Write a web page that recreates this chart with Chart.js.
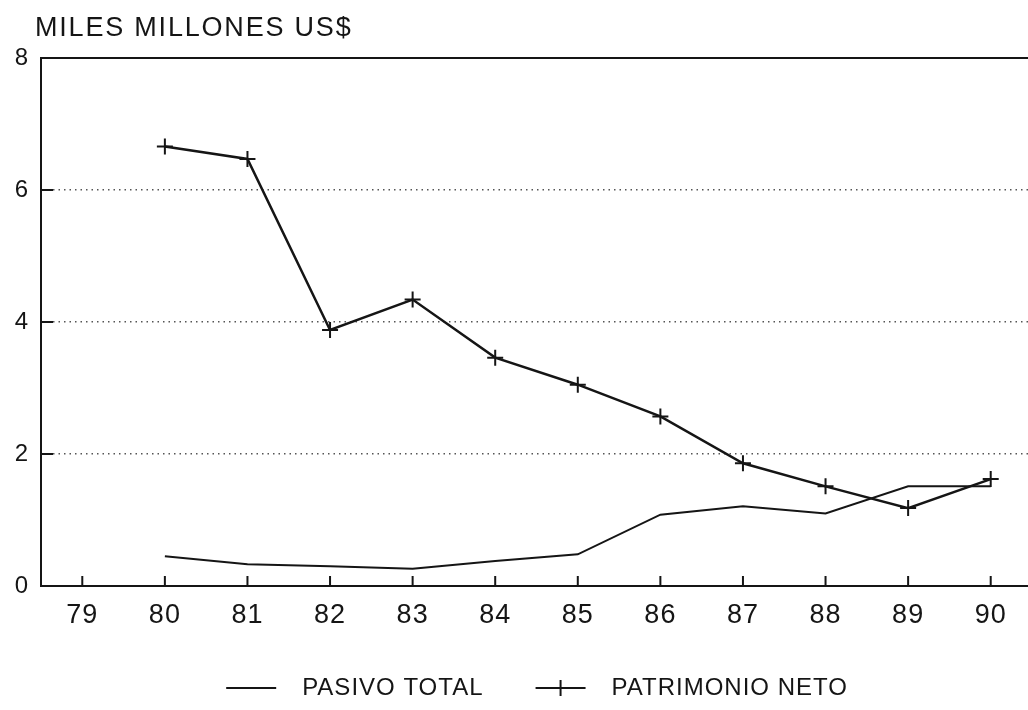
<!DOCTYPE html>
<html>
<head>
<meta charset="utf-8">
<script src="https://cdn.jsdelivr.net/npm/chart.js@4"></script>
<style>
  html, body { margin: 0; padding: 0; background: #fff; overflow: hidden; }
  #wrap { width: 1032px; height: 710px; position: relative; }
</style>
</head>
<body>
<div id="wrap"><canvas id="chart"></canvas></div>
<script>
// values, miles de millones US$
const years = ['79', '80', '81', '82', '83', '84', '85', '86', '87', '88', '89', '90'];
const pasivoTotal = [null, 0.45, 0.33, 0.30, 0.26, 0.38, 0.48, 1.08, 1.21, 1.10, 1.51, 1.51];
const patrimonioNeto = [null, 6.66, 6.47, 3.88, 4.34, 3.46, 3.05, 2.57, 1.86, 1.51, 1.18, 1.62];
const yTicks = [0, 2, 4, 6, 8];

const ink = '#151515';
const font = '"Liberation Sans", Arial, sans-serif';

// legend symbols: blank lead-in, a short line, and a cross for the second series
function legendIcon(withCross) {
  const c = document.createElement('canvas');
  c.width = 106; c.height = 24;
  const g = c.getContext('2d');
  g.strokeStyle = ink;
  g.lineWidth = 2;
  g.beginPath();
  g.moveTo(42, 12); g.lineTo(92, 12);
  if (withCross) { g.moveTo(67, 4); g.lineTo(67, 20); }
  g.stroke();
  return c;
}
const icons = [legendIcon(false), legendIcon(true)];

// frame top, inward ticks, title text
const framePlugin = {
  id: 'frame',
  beforeUpdate(chart) { chart.ctx.letterSpacing = '1px'; },
  beforeDraw(chart) { chart.ctx.letterSpacing = '1px'; },
  afterDraw(chart) {
    const { ctx, chartArea: a, scales: { x, y } } = chart;
    ctx.save();
    ctx.strokeStyle = ink;
    ctx.lineWidth = 2;
    ctx.beginPath();
    ctx.moveTo(a.left, a.top); ctx.lineTo(a.right, a.top);
    x.ticks.forEach((t, i) => {
      const px = x.getPixelForTick(i);
      ctx.moveTo(px, a.bottom); ctx.lineTo(px, a.bottom - 10);
    });
    y.ticks.forEach((t, i) => {
      if (t.value > 0 && t.value < 8) {
        const py = y.getPixelForTick(i);
        ctx.moveTo(a.left, py); ctx.lineTo(a.left + 12, py);
      }
    });
    ctx.stroke();
    ctx.fillStyle = ink;
    ctx.font = '27px ' + font;
    ctx.letterSpacing = '1.8px';
    ctx.textBaseline = 'middle';
    ctx.fillText('MILES MILLONES US$', 35, 29);
    ctx.restore();
  }
};

const data = {
  labels: years,
  datasets: [
    {
      label: 'PASIVO TOTAL',
      data: pasivoTotal,
      borderColor: ink,
      borderWidth: 2,
      pointRadius: 0,
      tension: 0
    },
    {
      label: 'PATRIMONIO NETO',
      data: patrimonioNeto,
      borderColor: ink,
      borderWidth: 2.5,
      pointStyle: 'cross',
      pointRadius: 8,
      pointBorderWidth: 2,
      pointBorderColor: ink,
      tension: 0
    }
  ]
};

const options = {
  responsive: true,
  maintainAspectRatio: false,
  animation: false,
  layout: { autoPadding: false, padding: { top: 58, right: 0, bottom: 0, left: 0 } },
  plugins: {
    tooltip: { enabled: false },
    legend: {
      position: 'bottom',
      labels: {
        usePointStyle: true,
        pointStyleWidth: 106,
        padding: 10,
        color: ink,
        font: { family: font, size: 24 },
        generateLabels: chart => chart.data.datasets.map((d, i) => ({
          text: d.label,
          pointStyle: icons[i],
          fontColor: ink,
          fillStyle: 'transparent',
          strokeStyle: 'transparent',
          lineWidth: 0,
          hidden: false,
          datasetIndex: i
        }))
      }
    }
  },
  scales: {
    x: {
      offset: true,
      afterFit: s => { s.height = 80; s.paddingLeft = 0; s.paddingRight = 0; },
      grid: { display: false, drawTicks: false },
      border: { display: true, color: ink, width: 2 },
      ticks: { color: ink, padding: 13, font: { family: font, size: 27 }, maxRotation: 0 }
    },
    y: {
      min: 0,
      max: 8,
      afterFit: s => { s.width = 41; },
      afterBuildTicks: s => { s.ticks = yTicks.map(v => ({ value: v })); },
      grid: {
        drawTicks: false,
        lineWidth: 1.5,
        color: c => (c.tick && c.tick.value > 0 && c.tick.value < 8) ? '#555' : 'transparent'
      },
      border: { display: true, color: ink, width: 2, dash: [1.5, 4] },
      ticks: { color: ink, padding: 12, font: { family: font, size: 24 } }
    }
  }
};

const ctx = document.getElementById('chart').getContext('2d');
const myChart = new Chart(ctx, {
  type: 'line',
  data: data,
  options: options,
  plugins: [framePlugin]
});
</script>
</body>
</html>
